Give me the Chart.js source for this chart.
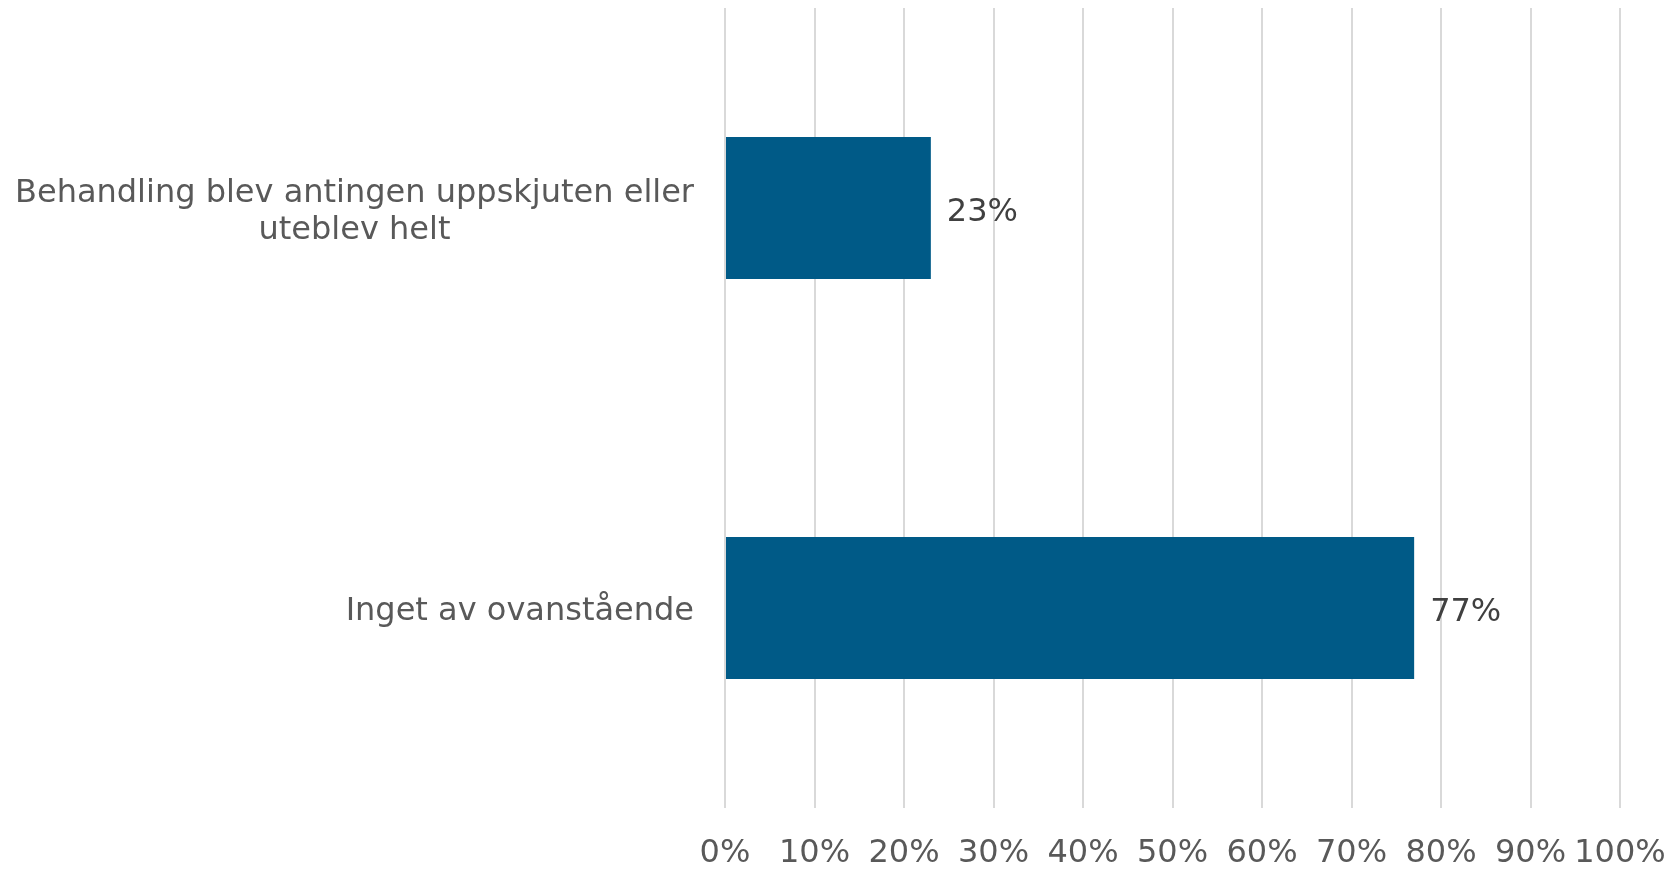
<!DOCTYPE html>
<html>
<head>
<meta charset="utf-8">
<script src="https://cdn.jsdelivr.net/npm/chart.js@4"></script>
<style>
  html, body { margin: 0; padding: 0; background: #fff; }
  #wrap { width: 1672px; height: 870px; }
</style>
</head>
<body>
<div id="wrap"><canvas id="chart"></canvas></div>
<script>
// kategorier (radbrytning som i originalet)
const categories = [
  ["Behandling blev antingen uppskjuten eller", "uteblev helt"],
  ["Inget av ovanstående"],
];
const values = [23, 77];
const tickValues = [0, 10, 20, 30, 40, 50, 60, 70, 80, 90, 100];

const FONT = "'DejaVu Sans', Verdana, sans-serif";
const FONT_SIZE = 32;

// etiketter för y-axeln: blocket högerställt, raderna centrerade
const yLabelPlugin = {
  id: "yLabels",
  afterDraw(chart) {
    const ctx = chart.ctx;
    const yScale = chart.scales.y;
    const right = chart.chartArea.left - 31;
    ctx.save();
    ctx.font = FONT_SIZE + "px " + FONT;
    ctx.fillStyle = "#595959";
    ctx.textAlign = "center";
    ctx.textBaseline = "middle";
    categories.forEach((lines, i) => {
      const widest = Math.max(...lines.map((l) => ctx.measureText(l).width));
      const cx = right - widest / 2;
      const cy = yScale.getPixelForValue(i) + 4;
      const lh = 37;
      lines.forEach((l, j) => {
        ctx.fillText(l, cx, cy + (j - (lines.length - 1) / 2) * lh);
      });
    });
    ctx.restore();
  },
};

// värdeetiketter till höger om staplarna
const valueLabelPlugin = {
  id: "valueLabels",
  afterDatasetsDraw(chart) {
    const ctx = chart.ctx;
    const meta = chart.getDatasetMeta(0);
    ctx.save();
    ctx.font = FONT_SIZE + "px " + FONT;
    ctx.fillStyle = "#404040";
    ctx.textAlign = "left";
    ctx.textBaseline = "middle";
    meta.data.forEach((bar, i) => {
      const { x, y } = bar.getProps(["x", "y"], true);
      ctx.fillText(values[i] + "%", x + 16, y + 5);
    });
    ctx.restore();
  },
};

const ctx = document.getElementById("chart").getContext("2d");
new Chart(ctx, {
  type: "bar",
  data: {
    labels: categories,
    datasets: [
      {
        data: values,
        backgroundColor: "#005a87",
        borderWidth: 0,
        categoryPercentage: 1,
        barPercentage: 0.355,
      },
    ],
  },
  options: {
    indexAxis: "y",
    responsive: true,
    maintainAspectRatio: false,
    animation: false,
    layout: {
      padding: { left: 725, right: 52, top: 8, bottom: 0 },
    },
    plugins: {
      legend: { display: false },
      tooltip: { enabled: false },
    },
    scales: {
      x: {
        min: 0,
        max: 100,
        afterBuildTicks(scale) {
          scale.ticks = tickValues.map((v) => ({ value: v }));
        },
        afterFit(scale) {
          scale.height = 62;
          scale.paddingLeft = 0;
          scale.paddingRight = 0;
        },
        grid: {
          color: "#d9d9d9",
          lineWidth: 2,
          drawTicks: false,
        },
        border: { display: false },
        ticks: {
          padding: 26,
          maxRotation: 0,
          autoSkip: false,
          color: "#595959",
          font: { family: FONT, size: FONT_SIZE },
          callback: (v) => v + "%",
        },
      },
      y: {
        afterFit(scale) {
          scale.width = 0;
        },
        grid: { display: false },
        border: { display: false },
        ticks: { display: false },
      },
    },
  },
  plugins: [yLabelPlugin, valueLabelPlugin],
});
</script>
</body>
</html>
